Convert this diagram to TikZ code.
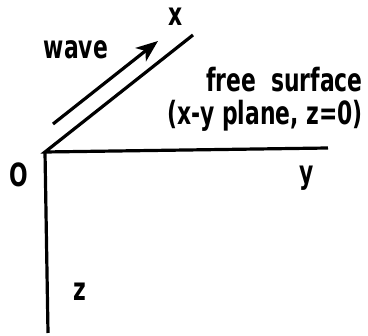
\documentclass[tikz,border=0pt]{standalone}
\usepackage{fontspec}
\setmainfont[FakeStretch=0.76]{DejaVu Sans Condensed}
\usepackage{tikz}
\usetikzlibrary{arrows.meta, positioning}

\begin{document}
\begin{tikzpicture}[
    x=1pt, y=-1pt,
    axis/.style={line width=3.2pt},
    arrow/.style={line width=3.2pt, -{Stealth[length=22pt, width=17pt, inset=6pt]}},
    lbl/.style={font=\bfseries\fontsize{32}{38}\selectfont, inner sep=0pt}
]
    \useasboundingbox (0,0) rectangle (368,336);

    \coordinate (origin) at (45,152);
    \coordinate (xend) at (193,35);
    \coordinate (yend) at (328,148);
    \coordinate (zend) at (48,333);
    \coordinate (wavestart) at (53,124);
    \coordinate (waveend) at (158,41);

    \draw[axis] (xend) -- (origin) -- (yend);
    \draw[axis] (origin) -- (zend);
    \draw[arrow] (wavestart) -- (waveend);

    \node[lbl] (xlab) at (176,17) {x};
    \node[lbl] (ylab) at (307,178) {y};
    \node[lbl] (zlab) at (80,292) {z};
    \node[lbl] (olab) at (19,175) {O};
    \node[lbl] (wave) at (76,50) {wave};
    \node[lbl, anchor=east] (surf) at (363,80) {free\ \ surface};
    \node[lbl, anchor=east] (plane) at (363,116) {(x-y plane, z=0)};
\end{tikzpicture}
\end{document}
